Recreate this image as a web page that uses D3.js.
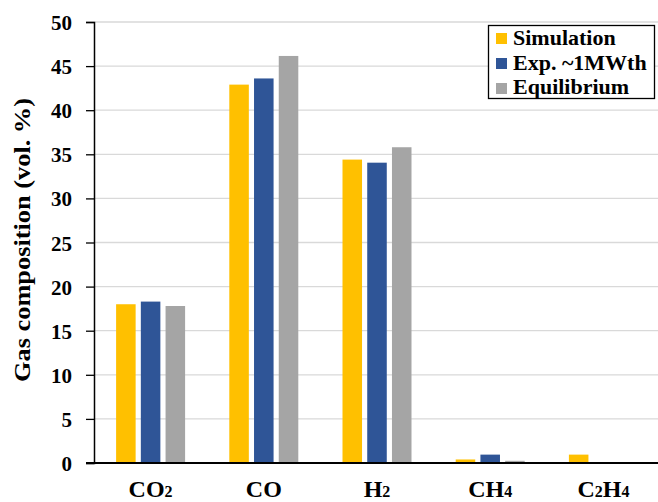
<!DOCTYPE html>
<html><head><meta charset="utf-8">
<script src="https://cdn.jsdelivr.net/npm/d3@7"></script>
<style>body{margin:0;background:#fff}svg{display:block}text{font-family:"Liberation Serif","Times New Roman",serif !important;font-weight:bold}</style>
</head><body><svg id="c" width="658" height="502"></svg>
<script>
const categories = [["CO","2"],["CO",""],["H","2"],["CH","4"],["C","2","H","4"]];
const seriesNames = ["Simulation","Exp. ~1MWth","Equilibrium"];
const simulation = [18.0, 42.9, 34.4, 0.4, 0.95];
const experiment = [18.3, 43.6, 34.05, 0.95, 0];
const equilibrium = [17.8, 46.15, 35.8, 0.25, 0];
const colors = ["#FFC000","#2F5597","#A5A5A5"];
const yTicks = [0,5,10,15,20,25,30,35,40,45,50];

const svg = d3.select("#c");
const m = {l:94, r:658, t:22, b:463};
const x = d3.scaleBand().domain(d3.range(categories.length)).range([m.l, 660]);
const x1 = d3.scaleBand().domain(d3.range(3)).range([0, 69]).paddingInner(0.21);
const y = d3.scaleLinear().domain([0,50]).range([m.b, m.t]);

svg.append("g").selectAll("line").data(yTicks.filter(d=>d>0)).join("line")
  .attr("x1", m.l).attr("x2", 658).attr("y1", d=>y(d)).attr("y2", d=>y(d))
  .attr("stroke", "#D9D9D9").attr("stroke-width", 1.3);

const series = [simulation, experiment, equilibrium];
series.forEach((vals, si) => {
  svg.append("g").selectAll("rect").data(vals).join("rect")
    .attr("x", (d,i)=> x(i) + x.bandwidth()/2 - 34.5 + x1(si))
    .attr("width", x1.bandwidth())
    .attr("y", d=>y(d)).attr("height", d=>y(0)-y(d))
    .attr("fill", colors[si]);
});

const ya = svg.append("g").attr("transform",`translate(${m.l},0)`)
  .call(d3.axisLeft(y).tickValues(yTicks).tickSize(8).tickPadding(14));
ya.attr("font-family", "Liberation Serif").attr("font-size", 21);
ya.select(".domain").attr("stroke","#000").attr("stroke-width",1.5);
ya.selectAll(".tick line").attr("stroke","#000").attr("stroke-width",1.3);
ya.selectAll(".tick text").attr("fill","#000").attr("dy","0.36em");

svg.append("line").attr("x1", 86).attr("x2", 658).attr("y1", y(0)).attr("y2", y(0))
  .attr("stroke","#000").attr("stroke-width",2.2);

categories.forEach((c,i)=>{
  const t = svg.append("text").attr("x", x(i)+x.bandwidth()/2).attr("y", 497)
    .attr("text-anchor","middle").attr("font-size",24).attr("fill","#000");
  c.forEach((p,j)=>{
    if(!p) return;
    if(j%2===0) t.append("tspan").text(p);
    else t.append("tspan").attr("font-size",16).text(p);
  });
});

svg.append("text").attr("transform","translate(30,240) rotate(-90)")
  .attr("text-anchor","middle").attr("font-size",23).attr("fill","#000")
  .attr("textLength",284).attr("lengthAdjust","spacingAndGlyphs")
  .text("Gas composition (vol. %)");

const lg = svg.append("g");
lg.append("rect").attr("x",488.5).attr("y",25.5).attr("width",166).attr("height",73)
  .attr("fill","#fff").attr("stroke","#000").attr("stroke-width",1.3);
seriesNames.forEach((n,i)=>{
  lg.append("rect").attr("x",496).attr("y",33+i*25).attr("width",11).attr("height",11).attr("fill",colors[i]);
  lg.append("text").attr("x",513).attr("y",45+i*24.5).attr("font-size",22).attr("fill","#000").text(n);
});
</script></body></html>
